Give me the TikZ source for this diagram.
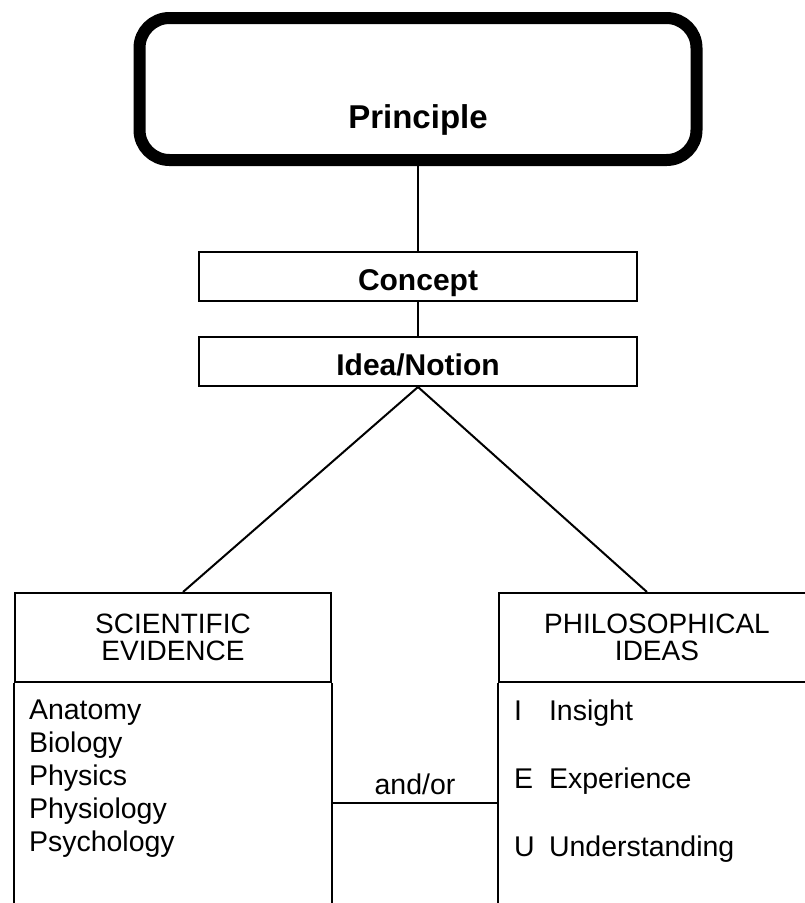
\documentclass[tikz,border=0pt]{standalone}
\usepackage{fontspec}
\setmainfont{Liberation Sans}
\usetikzlibrary{positioning}

\begin{document}
\begin{tikzpicture}[x=1pt, y=-1pt, line width=2pt,
  every node/.style={inner sep=0pt},
  mainbox/.style={draw, rounded corners=30pt, line width=12pt, minimum width=557pt, minimum height=142pt,
    font=\fontsize{33}{38}\selectfont\bfseries, text height=78pt, text depth=0pt},
  stagebox/.style={draw, minimum width=438pt, minimum height=49pt,
    font=\fontsize{30}{32}\selectfont\bfseries, text height=27pt, text depth=0pt},
  headbox/.style={draw, minimum width=316pt, minimum height=89pt, align=center,
    font=\fontsize{28}{27.5}\selectfont},
  item/.style={anchor=base west, font=\fontsize{28.5}{30}\selectfont}]
	\useasboundingbox (0,0) rectangle (805,903);
	\clip (0,0) rectangle (805,903);

	% hierarchy
	\node[mainbox] (principle) at (418,89) {Principle};
	\node[stagebox] (concept) at (418,276.5) {Concept};
	\node[stagebox] (idea) at (418,361.5) {Idea/Notion};
	\draw (principle.south) -- (concept.north);
	\draw (concept.south) -- (idea.north);

	% the two sources
	\node[headbox] (sci) at (173,637.5) {SCIENTIFIC\\EVIDENCE};
	\node[headbox] (phil) at (657,637.5) {PHILOSOPHICAL\\IDEAS};
	\draw (idea.south) -- ([xshift=10pt]sci.north);
	\draw (idea.south) -- ([xshift=-10pt]phil.north);
	\draw (sci.south west) -- ++(0,240);
	\draw (sci.south east) -- ++(0,240);
	\draw (phil.south west) -- ++(0,240);
	\draw (phil.south east) -- ++(0,240);

	\coordinate (andorlevel) at (0,803);
	\draw (sci.east |- andorlevel) -- node[above=8pt, font=\fontsize{28.5}{30}\selectfont, text depth=0pt] (andor) {and/or} (phil.west |- andorlevel);

	\foreach \subject[count=\i] in {Anatomy, Biology, Physics, Physiology, Psychology}
	{
		\node[item] (subject\i) at (28,{686+33*\i}) {\subject};
	}
	\foreach \letter/\word/\y in {I/Insight/720, E/Experience/788, U/Understanding/856}
	{
		\node[item] (letter\letter) at (513,\y) {\letter};
		\node[item] (word\letter) at (548,\y) {\word};
	}
\end{tikzpicture}
\end{document}
